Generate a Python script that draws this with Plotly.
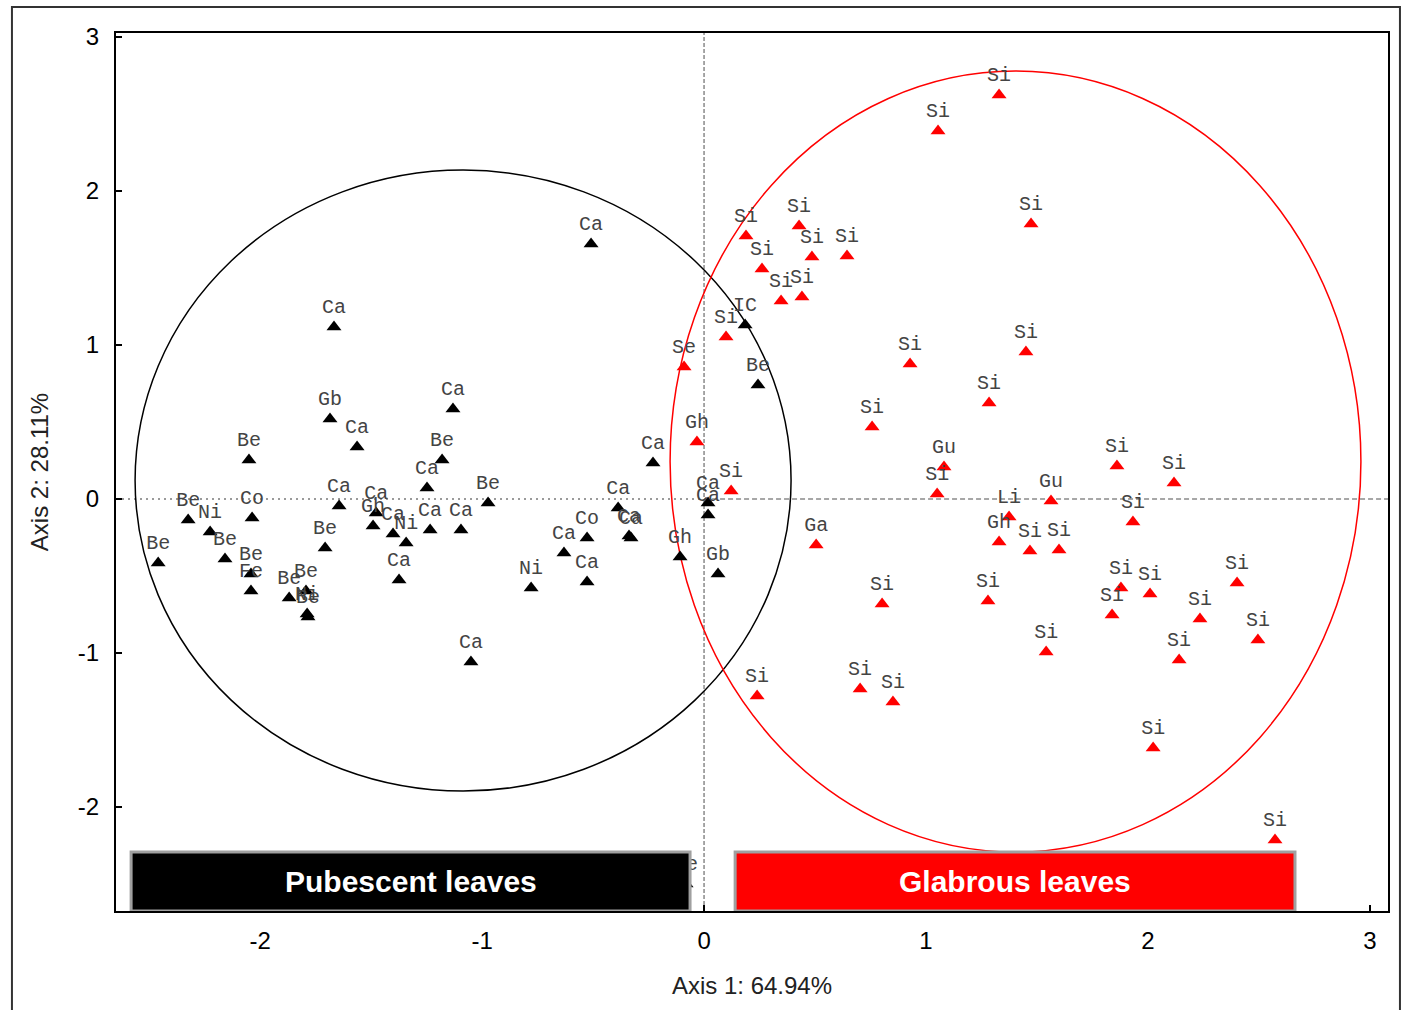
import plotly.graph_objects as go

# --- Pubescent-leaved samples (black) ---
pub_x = [-0.509, -1.667, -1.685, -1.563, -1.131, -1.180, -1.248, -0.973, -2.050, -2.324,
         -2.036, -2.225, -2.158, -2.459, -2.041, -2.041, -1.869, -1.793, -1.788, -1.784,
         -1.644, -1.477, -1.491, -1.401, -1.342, -1.707, -1.374, -1.234, -1.095, -0.779,
         -1.050, -0.230, -0.387, -0.338, -0.329, -0.527, -0.631, -0.527, -0.108, 0.063,
         0.018, 0.018, 0.185, 0.243, -0.081]
pub_y = [1.656, 1.117, 0.519, 0.338, 0.584, 0.253, 0.071, -0.026, 0.253, -0.136,
         -0.123, -0.214, -0.390, -0.416, -0.487, -0.597, -0.643, -0.597, -0.747, -0.766,
         -0.045, -0.091, -0.175, -0.227, -0.286, -0.318, -0.526, -0.201, -0.201, -0.578,
         -1.058, 0.234, -0.058, -0.240, -0.253, -0.253, -0.351, -0.539, -0.377, -0.487,
         -0.026, -0.104, 1.130, 0.740, -2.500]
pub_lab = ["Ca", "Ca", "Gb", "Ca", "Ca", "Be", "Ca", "Be", "Be", "Be",
           "Co", "Ni", "Be", "Be", "Be", "Fe", "Be", "Be", "Ni", "Be",
           "Ca", "Ca", "Gh", "Ca", "Ni", "Be", "Ca", "Ca", "Ca", "Ni",
           "Ca", "Ca", "Ca", "Ca", "Ca", "Co", "Ca", "Ca", "Gh", "Gb",
           "Ca", "Ca", "IC", "Be", "Be"]

# --- Glabrous-leaved samples (red) ---
gla_x = [-0.090, -0.032, 0.122, 0.099, 0.189, 0.261, 0.347, 0.441, 0.428, 0.486,
         0.644, 1.329, 1.054, 1.473, 1.450, 0.928, 1.284, 0.757, 1.081, 1.050,
         1.563, 1.374, 1.329, 1.468, 1.599, 0.505, 0.802, 1.279, 1.860, 2.117,
         1.932, 1.878, 2.009, 1.838, 2.401, 2.234, 2.495, 2.140, 1.541, 0.703,
         0.851, 0.239, 2.023, 2.572]
gla_y = [0.857, 0.370, 0.052, 1.052, 1.708, 1.494, 1.286, 1.312, 1.773, 1.571,
         1.578, 2.623, 2.390, 1.786, 0.955, 0.877, 0.623, 0.468, 0.208, 0.032,
         -0.013, -0.117, -0.279, -0.338, -0.331, -0.299, -0.682, -0.662, 0.214, 0.104,
         -0.149, -0.578, -0.617, -0.753, -0.545, -0.779, -0.916, -1.045, -0.994, -1.234,
         -1.318, -1.279, -1.617, -2.214]
gla_lab = ["Se", "Gh", "Si", "Si", "Si", "Si", "Si", "Si", "Si", "Si",
           "Si", "Si", "Si", "Si", "Si", "Si", "Si", "Si", "Gu", "Si",
           "Gu", "Li", "Gh", "Si", "Si", "Ga", "Si", "Si", "Si", "Si",
           "Si", "Si", "Si", "Si", "Si", "Si", "Si", "Si", "Si", "Si",
           "Si", "Si", "Si", "Si"]

tick_vals = [-2, -1, 0, 1, 2, 3]
tick_text = ["-2", "-1", "0", "1", "2", "3"]
x_title = "Axis 1: 64.94%"
y_title = "Axis 2: 28.11%"
group_names = ["Pubescent leaves", "Glabrous leaves"]

X_RANGE = [-2.649, 3.081]
Y_RANGE = [-2.675, 3.026]

label_font = dict(family="Courier New, Liberation Mono, monospace", size=20, color="#444444")
sans = "Liberation Sans, Arial, sans-serif"

fig = go.Figure()
fig.add_trace(go.Scatter(
    x=pub_x, y=pub_y, text=pub_lab, mode="markers+text", textposition="top center",
    textfont=label_font, cliponaxis=False,
    marker=dict(symbol="triangle-up", size=13, color="#000000", line=dict(width=0)),
    showlegend=False, hoverinfo="skip"))
fig.add_trace(go.Scatter(
    x=gla_x, y=gla_y, text=gla_lab, mode="markers+text", textposition="top center",
    textfont=label_font, cliponaxis=False,
    marker=dict(symbol="triangle-up", size=13, color="#ff0000", line=dict(width=0)),
    showlegend=False, hoverinfo="skip"))

shapes = [
    # reference lines through the origin
    dict(type="line", xref="x", yref="paper", x0=0, x1=0, y0=0, y1=1, layer="below",
         line=dict(color="#8a8a8a", width=1.5, dash="4px,2px")),
    dict(type="line", xref="x", yref="y", x0=X_RANGE[0], x1=0, y0=0, y1=0, layer="below",
         line=dict(color="#9a9a9a", width=2, dash="2px,4px")),
    dict(type="line", xref="x", yref="y", x0=0, x1=X_RANGE[1], y0=0, y1=0, layer="below",
         line=dict(color="#8a8a8a", width=1.5, dash="5px,3px")),
    # group ellipses
    dict(type="circle", xref="x", yref="y", x0=-2.563, x1=0.392, y0=-1.896, y1=2.136,
         layer="below", line=dict(color="#000000", width=1.5)),
    dict(type="circle", xref="x", yref="y", x0=-0.153, x1=2.959, y0=-2.292, y1=2.779,
         layer="below", line=dict(color="#ff0000", width=1.5)),
    # group boxes
    dict(type="rect", xref="x", yref="y", x0=-2.581, x1=-0.063, y0=Y_RANGE[0], y1=-2.292,
         layer="above", fillcolor="#000000", line=dict(color="#a0a0a0", width=3)),
    dict(type="rect", xref="x", yref="y", x0=0.140, x1=2.662, y0=Y_RANGE[0], y1=-2.292,
         layer="above", fillcolor="#ff0000", line=dict(color="#a0a0a0", width=3)),
    # outer frame
    dict(type="rect", xref="paper", yref="paper", x0=-0.0818, x1=1.0094, y0=-0.12, y1=1.0296,
         layer="above", fillcolor="rgba(0,0,0,0)", line=dict(color="#333333", width=2)),
]

annotations = [
    dict(x=(-2.581 - 0.063) / 2, y=(Y_RANGE[0] - 2.292) / 2, xref="x", yref="y",
         text="<b>%s</b>" % group_names[0], showarrow=False,
         font=dict(family=sans, size=30, color="#ffffff")),
    dict(x=(0.140 + 2.662) / 2, y=(Y_RANGE[0] - 2.292) / 2, xref="x", yref="y",
         text="<b>%s</b>" % group_names[1], showarrow=False,
         font=dict(family=sans, size=30, color="#ffffff")),
]

axis_common = dict(
    showgrid=False, zeroline=False, showline=True, mirror=True,
    linecolor="#000000", linewidth=2, ticks="inside", ticklen=6, tickwidth=1.5,
    tickcolor="#000000", tickmode="array", tickvals=tick_vals, ticktext=tick_text,
    tickfont=dict(family=sans, size=24, color="#000000"),
)

fig.update_layout(
    width=1402, height=1010,
    margin=dict(l=116, r=14, t=33, b=99),
    paper_bgcolor="#ffffff", plot_bgcolor="#ffffff",
    shapes=shapes, annotations=annotations,
    xaxis=dict(range=X_RANGE, title=dict(text=x_title, standoff=24,
               font=dict(family=sans, size=24, color="#222222")),
               ticklabelstandoff=7, **axis_common),
    yaxis=dict(range=Y_RANGE, title=dict(text=y_title, standoff=22,
               font=dict(family=sans, size=24, color="#222222")),
               ticklabelstandoff=10, **axis_common),
)

fig.write_html("out.html")
